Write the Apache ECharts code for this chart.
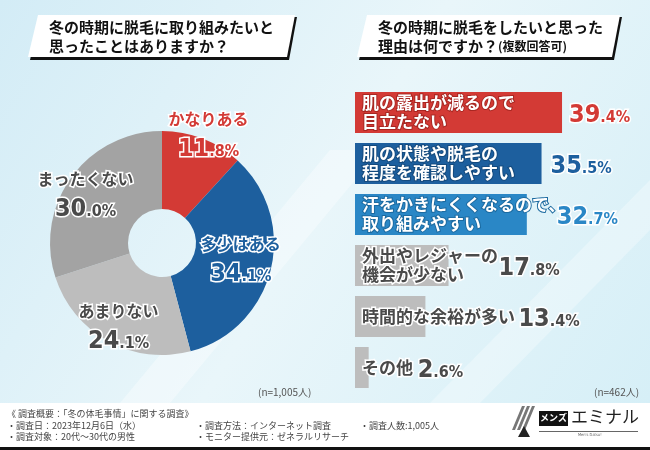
<!DOCTYPE html>
<html>
<head>
<meta charset="utf-8">
<script src="https://cdn.jsdelivr.net/npm/echarts@6/dist/echarts.min.js"></script>
<style>
  html, body { margin: 0; padding: 0; }
  #chart { width: 650px; height: 450px; }
</style>
</head>
<body>
<div id="chart"></div>
<script>
// 冬の時期に脱毛に取り組みたいと思ったことは？ (n=1,005)
var pieNames = ['かなりある', '多少はある', 'あまりない', 'まったくない'];
var pieValues = [11.8, 34.1, 24.1, 30.0];

// 脱毛をしたいと思った理由 (複数回答可, n=462)
var barNames = [
    '肌の露出が減るので\n目立たない',
    '肌の状態や脱毛の\n程度を確認しやすい',
    '汗をかきにくくなるので、\n取り組みやすい',
    '外出やレジャーの\n機会が少ない',
    '時間的な余裕が多い',
    'その他'
];
var barValues = [39.4, 35.5, 32.7, 17.8, 13.4, 2.6];

var sampleSizes = ['(n=1,005人)', '(n=462人)'];

var JP = '"Noto Sans CJK JP", sans-serif';
var NUM = '"DejaVu Sans Condensed", "Liberation Sans Narrow", sans-serif';

var pieColors = ['#d33a35', '#1d5f9e', '#bdbdbd', '#a3a3a3'];
var pieTextColors = ['#d33a35', '#1d5f9e', '#4a4a4a', '#4a4a4a'];
var pieLabelShift = [[19, -38], [5, -2], [-7, 16], [-15, -4]];

var barColors = ['#d33a35', '#1d5f9e', '#2a87c6', '#bdbdbd', '#bdbdbd', '#bdbdbd'];
var barTextBorder = ['#a82722', '#144a7d', '#1c6aa0', '#ffffff', '#ffffff', '#ffffff'];
var barTextColors = ['#ffffff', '#ffffff', '#ffffff', '#4a4a4a', '#4a4a4a', '#4a4a4a'];
var pctColors = ['#d33a35', '#1d5f9e', '#2a87c6', '#4a4a4a', '#4a4a4a', '#4a4a4a'];
var pctGap = [7, 9, 30, 50, 93, 49];

function pct(v) {
    var s = v.toFixed(1).split('.');
    return '{big|' + s[0] + '}{small|.' + s[1] + '%}';
}

function pctRich(color) {
    return {
        big: { fontFamily: NUM, fontWeight: 'bold', fontSize: 25, color: color,
               textBorderColor: '#fff', textBorderWidth: 3, lineHeight: 30, verticalAlign: 'bottom' },
        small: { fontFamily: NUM, fontWeight: 'bold', fontSize: 16, color: color,
                 textBorderColor: '#fff', textBorderWidth: 3, lineHeight: 30, verticalAlign: 'bottom',
                 padding: [0, 0, 2, 0] },
        name: { fontFamily: JP, fontWeight: 'bold', fontSize: 16, color: color,
                textBorderColor: '#fff', textBorderWidth: 3, lineHeight: 26 }
    };
}

var pieData = pieNames.map(function (n, i) {
    return {
        name: n,
        value: pieValues[i],
        itemStyle: { color: pieColors[i] },
        label: { rich: pctRich(pieTextColors[i]) }
    };
});

var barData = barValues.map(function (v, i) {
    return {
        value: v,
        itemStyle: { color: barColors[i] },
        label: {
            color: barTextColors[i],
            textBorderColor: barTextBorder[i],
            textBorderWidth: i < 3 ? 2 : 3
        }
    };
});

var pctData = barValues.map(function (v, i) {
    return {
        value: v,
        label: { distance: pctGap[i], rich: pctRich(pctColors[i]) }
    };
});

function titleBox(x0, x1) {
    // slanted white box with a black edge on the right and bottom
    return [
        { type: 'polygon', shape: { points: [[x0 + 12, 17], [x1 + 10, 17], [x1 + 2, 60], [x0 + 2, 60]] },
          style: { fill: '#111' } },
        { type: 'polygon', shape: { points: [[x0 + 10, 15], [x1 + 8, 15], [x1, 57], [x0, 57]] },
          style: { fill: '#fff' } }
    ];
}

var footLine1 = '《 調査概要：「冬の体毛事情」に関する調査》';
var footCol1 = ['・調査日：2023年12月6日（水）', '・調査対象：20代〜30代の男性'];
var footCol2 = ['・調査方法：インターネット調査', '・モニター提供元：ゼネラルリサーチ'];
var footCol3 = ['・調査人数:1,005人'];

var graphics = [
    { type: 'rect', z: -10, shape: { x: 0, y: 0, width: 650, height: 403 },
      style: { fill: new echarts.graphic.LinearGradient(0, 0, 1, 1, [
          { offset: 0, color: '#d3ecf6' },
          { offset: 0.5, color: '#e9f6fa' },
          { offset: 1, color: '#d6eff7' }
      ]) } },
    { type: 'polygon', z: -9, shape: { points: [[120, 403], [330, 150], [380, 150], [170, 403]] },
      style: { fill: 'rgba(255,255,255,0.35)' } },
    { type: 'polygon', z: -9, shape: { points: [[430, 403], [650, 180], [650, 230], [480, 403]] },
      style: { fill: 'rgba(255,255,255,0.3)' } },
    { type: 'rect', shape: { x: 0, y: 403, width: 650, height: 44 }, style: { fill: '#fff' } },
    { type: 'rect', shape: { x: 0, y: 447, width: 650, height: 3 }, style: { fill: '#111' } }
]
.concat(titleBox(28, 287))
.concat(titleBox(357, 612))
.concat([
    { type: 'text', left: 49, top: 18,
      style: { text: '冬の時期に脱毛に取り組みたいと\n思ったことはありますか？', fill: '#111',
               font: 'bold 15px ' + JP, lineHeight: 19 } },
    { type: 'text', left: 378, top: 18,
      style: { text: '冬の時期に脱毛をしたいと思った\n理由は何ですか？{s|(複数回答可)}', fill: '#111',
               font: 'bold 15px ' + JP, lineHeight: 19,
               rich: { s: { font: 'bold 12px ' + JP, fill: '#111' } } } },
    { type: 'text', left: 258, top: 387,
      style: { text: sampleSizes[0], fill: '#555', font: '10px ' + JP } },
    { type: 'text', left: 594, top: 387,
      style: { text: sampleSizes[1], fill: '#555', font: '10px ' + JP } },
    { type: 'text', left: 7, top: 408,
      style: { text: footLine1 + '\n' + footCol1.join('\n'), fill: '#444', font: '9px ' + JP, lineHeight: 11.5 } },
    { type: 'text', left: 196, top: 419.5,
      style: { text: footCol2.join('\n'), fill: '#444', font: '9px ' + JP, lineHeight: 11.5 } },
    { type: 'text', left: 360, top: 419.5,
      style: { text: footCol3.join('\n'), fill: '#444', font: '9px ' + JP, lineHeight: 11.5 } },
    // logo
    { type: 'polygon', shape: { points: [[522, 406], [525, 406], [515, 430], [512, 430]] }, style: { fill: '#777' } },
    { type: 'polygon', shape: { points: [[527, 406], [530, 406], [520, 430], [517, 430]] }, style: { fill: '#777' } },
    { type: 'polygon', shape: { points: [[532, 406], [535, 406], [525, 430], [522, 430]] }, style: { fill: '#777' } },
    { type: 'polygon', shape: { points: [[518, 437], [524, 426], [530, 437]] }, style: { fill: '#222' } },
    { type: 'rect', shape: { x: 539, y: 411, width: 29, height: 15 }, style: { fill: '#111' } },
    { type: 'text', left: 540, top: 413, style: { text: 'メンズ', fill: '#fff', font: 'bold 9px ' + JP } },
    { type: 'text', left: 571, top: 408, style: { text: 'エミナル', fill: '#222', font: '17px ' + JP } },
    { type: 'rect', shape: { x: 539, y: 431, width: 99, height: 0.8 }, style: { fill: '#333' } },
    { type: 'text', left: 578, top: 433, style: { text: "Men's Datsu!", fill: '#666', font: '4px ' + NUM } }
]);

var myChart = echarts.init(document.getElementById('chart'));
var chartOption = {
    animation: false,
    textStyle: { fontFamily: JP },
    graphic: graphics,
    grid: { left: 355, top: 87, width: 289, height: 306 },
    xAxis: { type: 'value', min: 0, max: 55, show: false },
    yAxis: { type: 'category', data: barNames, inverse: true, show: false },
    series: [
        {
            type: 'pie',
            center: [162, 243],
            radius: [34, 112],
            startAngle: 90,
            clockwise: true,
            data: pieData,
            label: {
                show: true,
                position: 'inside',
                formatter: function (p) {
                    return '{name|' + p.name + '}\n' + pct(p.value);
                }
            },
            labelLine: { show: false },
            labelLayout: function (p) {
                var s = pieLabelShift[p.dataIndex];
                return { dx: s[0], dy: s[1] };
            },
            emphasis: { disabled: true }
        },
        {
            type: 'bar',
            data: barData,
            barWidth: 41,
            z: 2,
            label: {
                show: true,
                position: 'insideLeft',
                distance: 7,
                fontFamily: JP,
                fontWeight: 'bold',
                fontSize: 17,
                lineHeight: 19,
                formatter: function (p) { return barNames[p.dataIndex]; }
            }
        },
        {
            type: 'bar',
            data: pctData,
            barWidth: 41,
            barGap: '-100%',
            z: 3,
            itemStyle: { color: 'rgba(0,0,0,0)' },
            label: {
                show: true,
                position: 'right',
                formatter: function (p) { return pct(p.value); }
            }
        }
    ]
};
myChart.setOption(chartOption);
</script>
</body>
</html>
